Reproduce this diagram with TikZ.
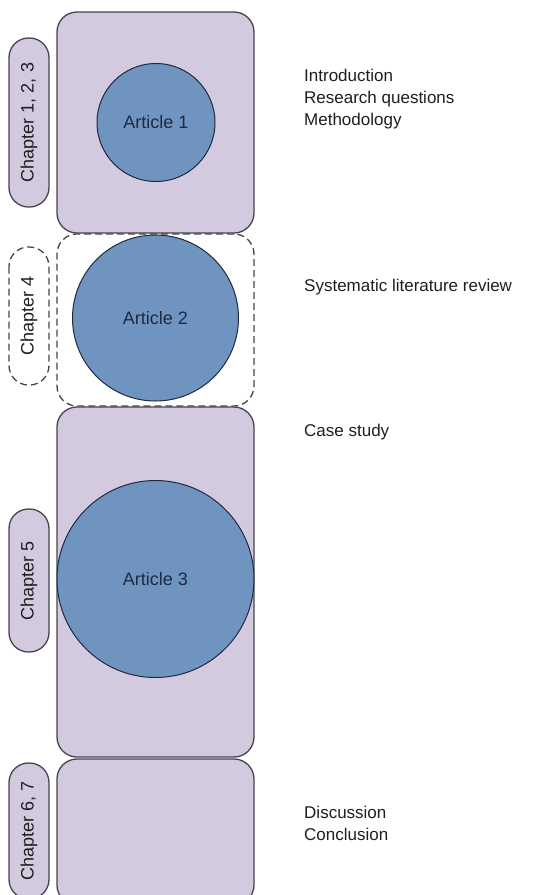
\documentclass[tikz,border=0pt]{standalone}
\usepackage{fontspec}
\setmainfont{Liberation Sans}
\usetikzlibrary{positioning}
\definecolor{lilac100}{HTML}{D3CAE0}
\definecolor{blue400} {HTML}{7094C0}
\definecolor{grey700} {HTML}{45454D}
\definecolor{navy800} {HTML}{1F2A42}
\definecolor{grey900} {HTML}{1E1E1E}
\newcommand{\lblfont}{\fontsize{17}{22}\selectfont}
\newcommand{\bigfont}{\fontsize{18}{22}\selectfont}
\tikzset{
  part/.style  ={draw=grey700, line width=1.3pt, fill=lilac100,
                 rounded corners=20pt, minimum width=197pt, inner sep=0pt},
  partd/.style ={part, fill=white, dash pattern=on 7pt off 4pt},
  art/.style   ={circle, draw=navy800, line width=1pt, fill=blue400,
                 inner sep=0pt, font=\bigfont, text=navy800},
  chap/.style  ={draw=grey700, line width=1.3pt, fill=lilac100,
                 rounded corners=19.5pt, minimum height=40pt, inner sep=0pt,
                 rotate=90, font=\bigfont, text=grey900},
  chapd/.style ={chap, fill=white, dash pattern=on 7pt off 4pt},
  tag/.style   ={align=left, inner sep=0pt, font=\lblfont, text=grey900}
}

\begin{document}
\begin{tikzpicture}[x=1pt,y=-1pt]
\useasboundingbox (0,0) rectangle (542,895);
\clip (0,0) rectangle (542,895);
\node[part, minimum height=221pt] (part1) at (155.5,122.5) {};
\node[partd, minimum height=172pt] (part2) at (155.5,320) {};
\node[part, minimum height=350pt] (part3) at (155.5,582) {};
\node[part, minimum height=146pt] (part4) at (155.5,832) {};

\node[art, minimum size=118pt] (art1) at (156,122.5) {Article 1};
\node[art, minimum size=166pt] (art2) at (155.5,318) {Article 2};
\node[art, minimum size=197pt] (art3) at (155.5,579) {Article 3};

\node[chap, minimum width=169pt] (chap1) at (29,122.5) {Chapter 1, 2, 3};
\node[chapd, minimum width=138pt] (chap2) at (29,316) {Chapter 4};
\node[chap, minimum width=143pt] (chap3) at (29,580.5) {Chapter 5};
\node[chap, minimum width=136pt] (chap4) at (29,831) {Chapter 6, 7};

\node[tag, anchor=west] (tag1) at (304,99.5)
  {Introduction\\Research questions\\Methodology};
\node[tag, anchor=base west] (tag2) at (304,291) {Systematic literature review};
\node[tag, anchor=base west] (tag3) at (304,436) {Case study};
\node[tag, anchor=west] (tag4) at (304,823)
  {Discussion\\Conclusion};
\end{tikzpicture}
\end{document}
